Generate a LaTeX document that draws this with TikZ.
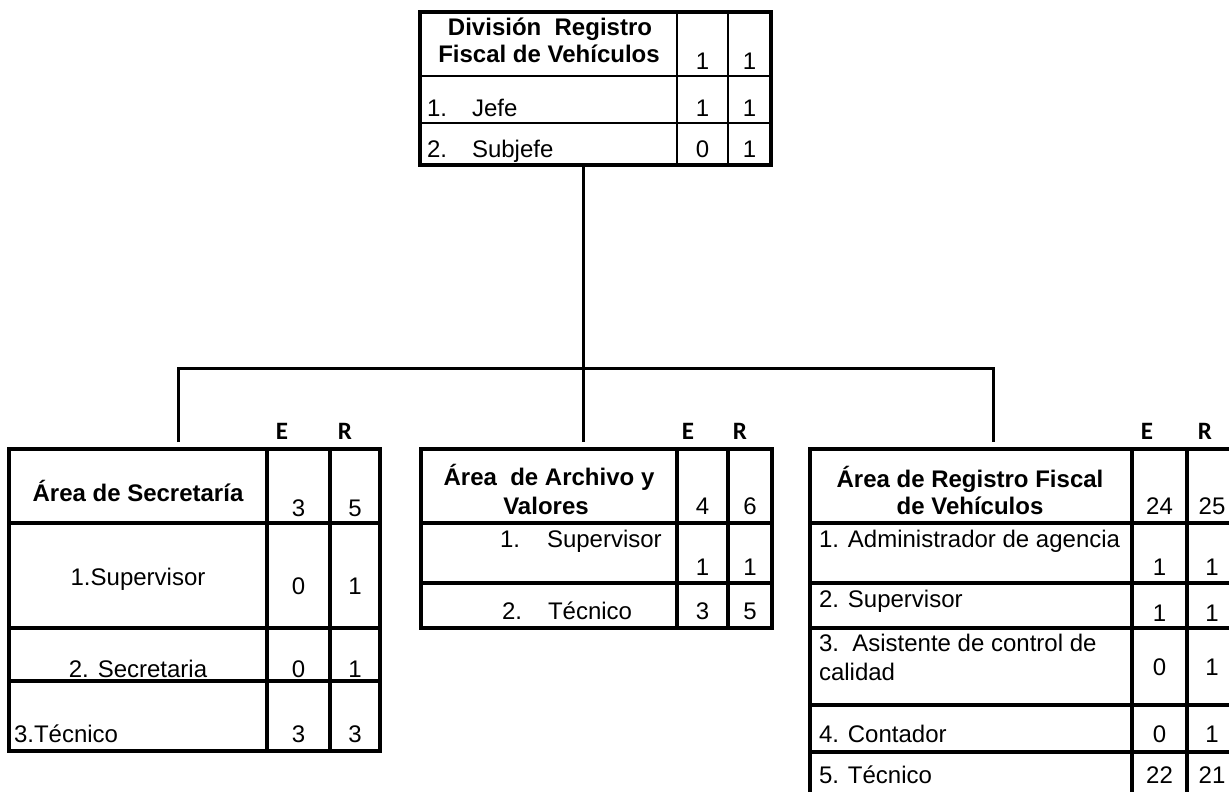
\documentclass[tikz,border=0pt]{standalone}
\usepackage{fontspec}
\setmainfont{Liberation Sans}
\newfontfamily\carl{Carlito}
\begin{document}
\begin{tikzpicture}[x=0.5pt,y=-0.5pt,
  every node/.style={inner sep=0pt,outer sep=0pt,font=\fontsize{12}{14}\selectfont},
  ctxt/.style={anchor=base},
  ltxt/.style={anchor=base west},
  btxt/.style={anchor=base,font=\fontsize{12}{14}\selectfont\bfseries},
  hdr/.style={anchor=base,font=\fontsize{12.5}{14}\selectfont\carl\bfseries},
  boxline/.style={line width=1.7pt},
  thinrule/.style={line width=0.8pt},
  conn/.style={line width=1.5pt}]
\useasboundingbox (0,0) rectangle (1229,791);
\clip (0,0) rectangle (1229,791);

% ---------- top table ----------
\draw[thinrule] (420,76) -- (771,76) (420,123) -- (771,123)
  (677,12) -- (677,165) (728,12) -- (728,165);
\node[draw,boxline,minimum width=175.5pt,minimum height=76.5pt,anchor=north west] (top) at (420,12) {};
\node[btxt] (top1) at (550,36) {División\ \ Registro};
\node[btxt] (top2) at (549,63) {Fiscal de Vehículos};
\node[ctxt] (topE) at (702.5,70) {1};
\node[ctxt] (topR) at (749.5,70) {1};
\node[ltxt] (j1n) at (427,117) {1.};
\node[ltxt] (j1t) at (472,117) {Jefe};
\node[ctxt] (j1E) at (702.5,117) {1};
\node[ctxt] (j1R) at (749.5,117) {1};
\node[ltxt] (j2n) at (427,158) {2.};
\node[ltxt] (j2t) at (472,158) {Subjefe};
\node[ctxt] (j2E) at (702.5,158) {0};
\node[ctxt] (j2R) at (749.5,158) {1};

% ---------- connectors ----------
\coordinate (topc) at (583,165);
\coordinate (j) at (583,368);
\coordinate (b1) at (178,368);
\coordinate (b3) at (993,368);
\coordinate (d1) at (178,442);
\coordinate (d2) at (583,442);
\coordinate (d3) at (993,442);
\draw[conn] (topc) -- (j);
\draw[conn] (d1) -- (b1) -- (b3) -- (d3);
\draw[conn] (j) -- (d2);

% ---------- left table ----------
\node[hdr] (lE) at (282,439) {E};
\node[hdr] (lR) at (345,439) {R};
\draw[boxline] (9,523) -- (380,523) (9,628) -- (380,628) (9,681) -- (380,681)
  (267,449) -- (267,751) (330,449) -- (330,751);
\node[draw,boxline,minimum width=185.5pt,minimum height=151pt,anchor=north west] (left) at (9,449) {};
\node[btxt] (l0) at (138,501) {Área de Secretaría};
\node[ctxt] (l0E) at (298.5,516) {3};
\node[ctxt] (l0R) at (355,516) {5};
\node[ctxt] (l1) at (138,585) {1.Supervisor};
\node[ctxt] (l1E) at (298.5,594) {0};
\node[ctxt] (l1R) at (355,594) {1};
\node[ctxt] (l2) at (138,677) {2. Secretaria};
\node[ctxt] (l2E) at (298.5,677) {0};
\node[ctxt] (l2R) at (355,677) {1};
\node[ltxt] (l3) at (14,742) {3.Técnico};
\node[ctxt] (l3E) at (298.5,742) {3};
\node[ctxt] (l3R) at (355,742) {3};

% ---------- middle table ----------
\node[hdr] (mE) at (688,439) {E};
\node[hdr] (mR) at (740,439) {R};
\draw[boxline] (421,523) -- (772,523) (421,583) -- (772,583)
  (677,449) -- (677,628) (728,449) -- (728,628);
\node[draw,boxline,minimum width=175.5pt,minimum height=89.5pt,anchor=north west] (mid) at (421,449) {};
\node[btxt] (m0a) at (549,485) {Área\ \ de Archivo y};
\node[btxt] (m0b) at (546,514) {Valores};
\node[ctxt] (m0E) at (702.5,514) {4};
\node[ctxt] (m0R) at (750,514) {6};
\node[ltxt] (m1n) at (500,547) {1.};
\node[ltxt] (m1t) at (547,547) {Supervisor};
\node[ctxt] (m1E) at (702.5,575) {1};
\node[ctxt] (m1R) at (750,575) {1};
\node[ltxt] (m2n) at (502,619) {2.};
\node[ltxt] (m2t) at (548,619) {Técnico};
\node[ctxt] (m2E) at (702.5,619) {3};
\node[ctxt] (m2R) at (750,619) {5};

% ---------- right table ----------
\node[hdr] (rE) at (1147,439) {E};
\node[hdr] (rR) at (1205,439) {R};
\draw[boxline] (810,523) -- (1236,523) (810,583) -- (1236,583) (810,628) -- (1236,628)
  (810,705) -- (1236,705) (810,752) -- (1236,752)
  (1132,449) -- (1132,810) (1187,449) -- (1187,810);
\node[draw,boxline,minimum width=213pt,minimum height=180pt,anchor=north west] (right) at (810,449) {};
\node[btxt] (r0a) at (970,487) {Área de Registro Fiscal};
\node[btxt] (r0b) at (970,514) {de Vehículos};
\node[ctxt] (r0E) at (1159.5,514) {24};
\node[ctxt] (r0R) at (1212,514) {25};
\node[ltxt] (r1) at (819,547) {1. Administrador de agencia};
\node[ctxt] (r1E) at (1159.5,575) {1};
\node[ctxt] (r1R) at (1212,575) {1};
\node[ltxt] (r2) at (819,607) {2. Supervisor};
\node[ctxt] (r2E) at (1159.5,621) {1};
\node[ctxt] (r2R) at (1212,621) {1};
\node[ltxt] (r3a) at (819,651) {3.\ \ Asistente de control de};
\node[ltxt] (r3b) at (819,680) {calidad};
\node[ctxt] (r3E) at (1159.5,675) {0};
\node[ctxt] (r3R) at (1212,675) {1};
\node[ltxt] (r4) at (819,742) {4. Contador};
\node[ctxt] (r4E) at (1159.5,742) {0};
\node[ctxt] (r4R) at (1212,742) {1};
\node[ltxt] (r5) at (819,783) {5. Técnico};
\node[ctxt] (r5E) at (1159.5,783) {22};
\node[ctxt] (r5R) at (1212,783) {21};
\end{tikzpicture}
\end{document}
